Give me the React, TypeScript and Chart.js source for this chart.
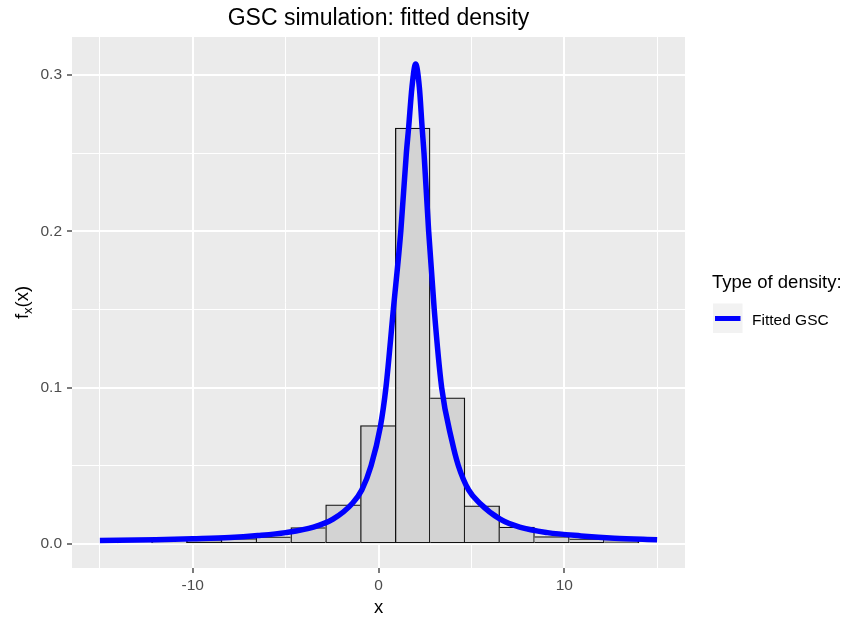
import React, { useEffect, useRef } from "react";
import { Chart, registerables } from "chart.js";

Chart.register(...registerables);

// ---- Data ----
const binEdges = [-14.09, -12.22, -10.34, -8.47, -6.6, -4.72, -2.85, -0.97, 0.9, 2.78, 4.65, 6.52, 8.4, 10.27, 12.15, 14.02];
const binDensity = [0.0006, 0.0012, 0.0021, 0.0034, 0.0045, 0.0104, 0.025, 0.0757, 0.266, 0.0934, 0.0243, 0.0107, 0.0047, 0.0032, 0.0019];

const curveX = [-15, -12, -10, -8, -6.5, -5, -3.5, -2.45, -1.4, -0.9, -0.4, 0.1, 0.4, 0.8, 1.2, 1.5, 1.62, 1.8, 2.0, 2.2, 2.35, 2.45, 2.7, 3.0, 3.4, 3.95, 4.3, 4.85, 5.45, 6.55, 7.6, 9.1, 10.9, 12.7, 15];
const curveY = [0.0021, 0.0026, 0.0032, 0.004, 0.0053, 0.0072, 0.0107, 0.0158, 0.026, 0.0345, 0.05, 0.075, 0.1, 0.15, 0.2, 0.25, 0.266, 0.292, 0.307, 0.292, 0.266, 0.25, 0.2, 0.15, 0.1, 0.066, 0.05, 0.0345, 0.026, 0.0158, 0.0107, 0.0072, 0.0051, 0.0036, 0.0026];

const xRange = [-16.5, 16.5];
const yRange = [-0.01544, 0.3243];
const xMajorStep = 10;
const xMinorStep = 5;
const yMajorStep = 0.1;
const yMinorStep = 0.05;

const titleText = "GSC simulation: fitted density";
const xTitle = "x";
const yTitleMain = "f";
const yTitleSub = "x";
const yTitleRest = "(x)";
const legendTitle = "Type of density:";
const seriesName = "Fitted GSC";

const FONT = '"Liberation Sans", Arial, Helvetica, sans-serif';

function isMajor(v: number, step: number) {
  return Math.abs(v / step - Math.round(v / step)) < 1e-6;
}

export default function App() {
  const ref = useRef<HTMLCanvasElement>(null);

  useEffect(() => {
    document.body.style.margin = "0";
    const canvas = ref.current!;

    const bars = binDensity.map((h, i) => ({ x: (binEdges[i] + binEdges[i + 1]) / 2, y: h }));
    const curve = curveX.map((x, i) => ({ x, y: curveY[i] }));
    const last = binDensity.length - 1;
    const bw = 1.3;

    const decor = {
      id: "decor",
      beforeDraw(chart: any) {
        const { ctx, chartArea: a } = chart;
        ctx.save();
        ctx.fillStyle = "#EBEBEB";
        ctx.fillRect(a.left, a.top, a.right - a.left, a.bottom - a.top);
        ctx.restore();
      },
      afterDraw(chart: any) {
        const { ctx, chartArea: a } = chart;
        const cx = (a.left + a.right) / 2;
        const cy = (a.top + a.bottom) / 2;
        ctx.save();
        ctx.fillStyle = "#000000";
        ctx.textBaseline = "alphabetic";

        // Title
        ctx.font = `23px ${FONT}`;
        ctx.textAlign = "center";
        ctx.fillText(titleText, cx, 25);

        // X axis title
        ctx.font = `18.5px ${FONT}`;
        ctx.fillText(xTitle, cx, 613);

        // Y axis title with subscript
        ctx.save();
        ctx.translate(28, cy);
        ctx.rotate(-Math.PI / 2);
        ctx.textAlign = "left";
        const big = `18.5px ${FONT}`;
        const small = `13px ${FONT}`;
        ctx.font = big;
        const wf = ctx.measureText(yTitleMain).width;
        const wr = ctx.measureText(yTitleRest).width;
        ctx.font = small;
        const ws = ctx.measureText(yTitleSub).width;
        const x0 = -(wf + ws + wr) / 2;
        ctx.font = big;
        ctx.fillText(yTitleMain, x0, 0);
        ctx.font = small;
        ctx.fillText(yTitleSub, x0 + wf, 4);
        ctx.font = big;
        ctx.fillText(yTitleRest, x0 + wf + ws, 0);
        ctx.restore();

        // Legend
        ctx.textAlign = "left";
        ctx.font = `18.5px ${FONT}`;
        ctx.fillText(legendTitle, 712, 288);
        ctx.fillStyle = "#F2F2F2";
        ctx.fillRect(713, 303.5, 29.5, 29.5);
        ctx.strokeStyle = "#0000FF";
        ctx.lineWidth = 5;
        ctx.lineCap = "butt";
        ctx.beginPath();
        ctx.moveTo(715, 318.5);
        ctx.lineTo(740.5, 318.5);
        ctx.stroke();
        ctx.fillStyle = "#000000";
        ctx.font = `15.5px ${FONT}`;
        ctx.fillText(seriesName, 752, 325);
        ctx.restore();
      },
    };

    const gridFor = (major: number) => ({
      color: "#FFFFFF",
      lineWidth: (c: any) => (c.tick && isMajor(c.tick.value, major) ? 2 : 1),
      tickColor: (c: any) => (c.tick && isMajor(c.tick.value, major) ? "#333333" : "rgba(0,0,0,0)"),
      tickWidth: 1.3,
      tickLength: 5,
      drawTicks: true,
      offset: false,
    });

    const chart = new Chart(canvas, {
      type: "bar",
      data: {
        datasets: [
          {
            type: "line",
            label: seriesName,
            data: curve,
            borderColor: "#0000FF",
            borderWidth: 5.5,
            pointRadius: 0,
            pointHoverRadius: 0,
            cubicInterpolationMode: "monotone",
            fill: false,
            order: 0,
          } as any,
          {
            type: "bar",
            label: "histogram",
            data: bars,
            backgroundColor: "#D3D3D3",
            borderColor: "#111111",
            borderWidth: (c: any) => {
              const i = c.dataIndex;
              const h = binDensity[i];
              return {
                top: bw,
                bottom: bw,
                left: i === 0 || h >= binDensity[i - 1] ? bw : 0,
                right: i === last || h > binDensity[i + 1] ? bw : 0,
              };
            },
            borderSkipped: false,
            barPercentage: 1,
            categoryPercentage: 1,
            grouped: false,
            order: 1,
          } as any,
        ],
      },
      options: {
        animation: false,
        responsive: false,
        maintainAspectRatio: false,
        devicePixelRatio: 1,
        events: [],
        layout: { padding: { left: 0, top: 37, right: 160, bottom: 0 } },
        plugins: {
          legend: { display: false },
          title: { display: false },
          tooltip: { enabled: false },
        },
        scales: {
          x: {
            type: "linear",
            min: xRange[0],
            max: xRange[1],
            offset: false,
            grid: gridFor(xMajorStep),
            border: { display: false },
            ticks: {
              stepSize: xMinorStep,
              includeBounds: false,
              autoSkip: false,
              maxRotation: 0,
              padding: 3,
              color: "#4D4D4D",
              font: { family: FONT, size: 15.5 },
              callback: (v: any) => (isMajor(Number(v), xMajorStep) ? String(Math.round(Number(v))) : ""),
            },
            afterFit: (s: any) => {
              s.height = 51;
            },
          },
          y: {
            type: "linear",
            min: yRange[0],
            max: yRange[1],
            grid: gridFor(yMajorStep),
            border: { display: false },
            ticks: {
              stepSize: yMinorStep,
              includeBounds: false,
              autoSkip: false,
              padding: 5,
              color: "#4D4D4D",
              font: { family: FONT, size: 15.5 },
              callback: (v: any) => (isMajor(Number(v), yMajorStep) ? Number(v).toFixed(1) : ""),
            },
            afterFit: (s: any) => {
              s.width = 72;
            },
          },
        },
      } as any,
      plugins: [decor],
    });

    return () => chart.destroy();
  }, []);

  return (
    <div style={{ width: 845, height: 619 }}>
      <canvas ref={ref} width={845} height={619} style={{ display: "block", width: 845, height: 619 }} />
    </div>
  );
}
